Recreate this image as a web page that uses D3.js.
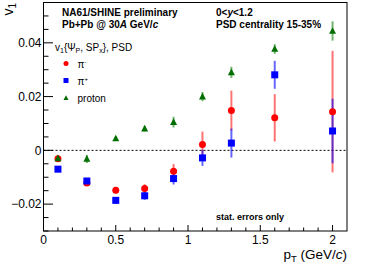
<!DOCTYPE html>
<html><head><meta charset="utf-8">
<script src="https://cdn.jsdelivr.net/npm/d3@7"></script>
<style>
html,body{margin:0;padding:0;background:#fff;}
svg text{font-family:"Liberation Sans",Arial,Helvetica,sans-serif;}
</style></head>
<body>
<svg id="chart" width="366" height="266"></svg>
<script>
const ptBins = [0.1, 0.3, 0.5, 0.7, 0.9, 1.1, 1.3, 1.6, 2.0];
const piMinusV1  = [-0.0031, -0.0121, -0.0148, -0.0142, -0.0078, 0.0022, 0.0148, 0.0121, 0.0144];
const piMinusErr = [0.0009, 0.0009, 0.0012, 0.0016, 0.0027, 0.0048, 0.0074, 0.0088, 0.0226];
const piPlusV1   = [-0.0070, -0.0114, -0.0186, -0.0169, -0.0105, -0.0028, 0.0027, 0.0281, 0.0072];
const piPlusErr  = [0.0008, 0.0009, 0.0012, 0.0015, 0.0022, 0.0030, 0.0054, 0.0052, 0.0120];
const protonV1   = [-0.0030, -0.0032, 0.0044, 0.0081, 0.0105, 0.0200, 0.0290, 0.0377, 0.0444];
const protonErr  = [0.0012, 0.0015, 0.0008, 0.0010, 0.0020, 0.0017, 0.0021, 0.0018, 0.0036];
const xMajorTicks = [0, 0.5, 1, 1.5, 2];
const xTickLabels = ["0", "0.5", "1", "1.5", "2"];
const yMajorTicks = [-0.02, 0, 0.02, 0.04];
const yTickLabels = ["\u22120.02", "0", "0.02", "0.04"];

const svg = d3.select("#chart");
const L = 43.5, R = 347, T = 2.5, B = 231;
const x = d3.scaleLinear().domain([0, 2.1]).range([L, R]);
const y = d3.scaleLinear().domain([-0.03, 0.055]).range([B, T]);

// zero dashed line
svg.append("line").attr("x1", L).attr("x2", R).attr("y1", y(0)).attr("y2", y(0))
  .attr("stroke", "#000").attr("stroke-width", 1).attr("stroke-dasharray", "2,2");

// ticks
const g = svg.append("g");
const xMinor = d3.range(0, 21).map(i => i / 10);
xMinor.forEach(v => {
  const major = Math.abs(v * 2 - Math.round(v * 2)) < 1e-9;
  g.append("line").attr("x1", x(v)).attr("x2", x(v)).attr("y1", B).attr("y2", B - (major ? 6 : 3.5))
    .attr("stroke", "#000").attr("stroke-width", 1);
});
const yMinor = d3.range(-6, 12).map(i => i * 0.005);
yMinor.forEach(v => {
  const major = Math.abs(v / 0.02 - Math.round(v / 0.02)) < 1e-6;
  g.append("line").attr("x1", L).attr("x2", L + (major ? 9.5 : 5)).attr("y1", y(v)).attr("y2", y(v))
    .attr("stroke", "#000").attr("stroke-width", 1);
});
xMajorTicks.forEach((v, i) => {
  svg.append("text").attr("x", x(v)).attr("y", 243.5).attr("text-anchor", "middle")
    .attr("font-size", 12).text(xTickLabels[i]);
});
yMajorTicks.forEach((v, i) => {
  svg.append("text").attr("x", 41.5).attr("y", y(v) + 4.3).attr("text-anchor", "end")
    .attr("font-size", 12).text(yTickLabels[i]);
});

// frame
svg.append("rect").attr("x", L).attr("y", T).attr("width", R - L).attr("height", B - T)
  .attr("fill", "none").attr("stroke", "#000").attr("stroke-width", 1);

// axis titles
const xt = svg.append("text").attr("x", R).attr("y", 258.5).attr("text-anchor", "end").attr("font-size", 13.5);
xt.append("tspan").text("p");
xt.append("tspan").attr("font-size", 9.5).attr("dy", 3).text("T");
xt.append("tspan").attr("dy", -3).text(" (GeV/");
xt.append("tspan").attr("font-style", "italic").text("c");
xt.append("tspan").text(")");

const yt = svg.append("text").attr("transform", "translate(13,3) rotate(-90)")
  .attr("text-anchor", "end").attr("font-size", 14);
yt.append("tspan").text("v");
yt.append("tspan").attr("font-size", 10).attr("dy", 3).text("1");

// series
const series = [
  {name: "piMinus", v: piMinusV1, e: piMinusErr, color: "#ff0000", bar: "rgba(255,0,0,0.55)", shape: "circle"},
  {name: "piPlus", v: piPlusV1, e: piPlusErr, color: "#0000ff", bar: "rgba(0,0,255,0.6)", shape: "square"},
  {name: "proton", v: protonV1, e: protonErr, color: "#006f00", bar: "rgba(0,120,0,0.55)", shape: "triangle"}
];
function marker(sel, shape, cx, cy, color, s) {
  if (shape === "circle") sel.append("circle").attr("cx", cx).attr("cy", cy).attr("r", s * 0.5).attr("fill", color);
  else if (shape === "square") sel.append("rect").attr("x", cx - s / 2).attr("y", cy - s / 2).attr("width", s).attr("height", s).attr("fill", color);
  else sel.append("path").attr("d", `M${cx},${cy - s * 0.55}L${cx + s * 0.5},${cy + s * 0.4}L${cx - s * 0.5},${cy + s * 0.4}Z`).attr("fill", color);
}
const order = [0, 1, 2];
order.forEach(si => {
  const s = series[si];
  ptBins.forEach((p, i) => {
    svg.append("line").attr("x1", x(p)).attr("x2", x(p))
      .attr("y1", y(s.v[i] - s.e[i])).attr("y2", y(s.v[i] + s.e[i]))
      .attr("stroke", s.bar).attr("stroke-width", 2);
  });
});
order.forEach(si => {
  const s = series[si];
  ptBins.forEach((p, i) => marker(svg, s.shape, x(p), y(s.v[i]), s.color, 7));
});

// header texts
svg.append("text").attr("x", 62).attr("y", 16).attr("font-size", 10).attr("font-weight", "bold").text("NA61/SHINE preliminary");
const t2 = svg.append("text").attr("x", 62).attr("y", 28).attr("font-size", 10).attr("font-weight", "bold");
t2.append("tspan").text("Pb+Pb @ 30");
t2.append("tspan").attr("font-style", "italic").text("A");
t2.append("tspan").text(" GeV/");
t2.append("tspan").attr("font-style", "italic").text("c");
const t3 = svg.append("text").attr("x", 216).attr("y", 15.5).attr("font-size", 10).attr("font-weight", "bold");
t3.append("tspan").text("0<");
t3.append("tspan").attr("font-style", "italic").text("y");
t3.append("tspan").text("<1.2");
svg.append("text").attr("x", 216).attr("y", 28).attr("font-size", 10).attr("font-weight", "bold").text("PSD centrality 15-35%");
svg.append("text").attr("x", 216).attr("y", 219.5).attr("font-size", 9).attr("font-weight", "bold").text("stat. errors only");

// legend
const lh = svg.append("text").attr("x", 55).attr("y", 50.5).attr("font-size", 10);
lh.append("tspan").text("v");
lh.append("tspan").attr("font-size", 7).attr("dy", 2).text("1");
lh.append("tspan").attr("dy", -2).text("{\u03A8");
lh.append("tspan").attr("font-size", 7).attr("dy", 2).text("P");
lh.append("tspan").attr("dy", -2).text(", SP");
lh.append("tspan").attr("font-size", 7).attr("dy", 2).text("x");
lh.append("tspan").attr("dy", -2).text("}, PSD");

const legendLabels = [["\u03C0", "-"], ["\u03C0", "+"], ["proton", ""]];
const legendY = [63.5, 80.5, 98];
series.forEach((s, i) => {
  marker(svg, s.shape, 66, legendY[i], s.color, 5);
  const t = svg.append("text").attr("x", 77.5).attr("y", legendY[i] + 4).attr("font-size", 10);
  t.append("tspan").text(legendLabels[i][0]);
  if (legendLabels[i][1]) t.append("tspan").attr("font-size", 6).attr("dy", -4).text(legendLabels[i][1]);
});
</script>
</body></html>
